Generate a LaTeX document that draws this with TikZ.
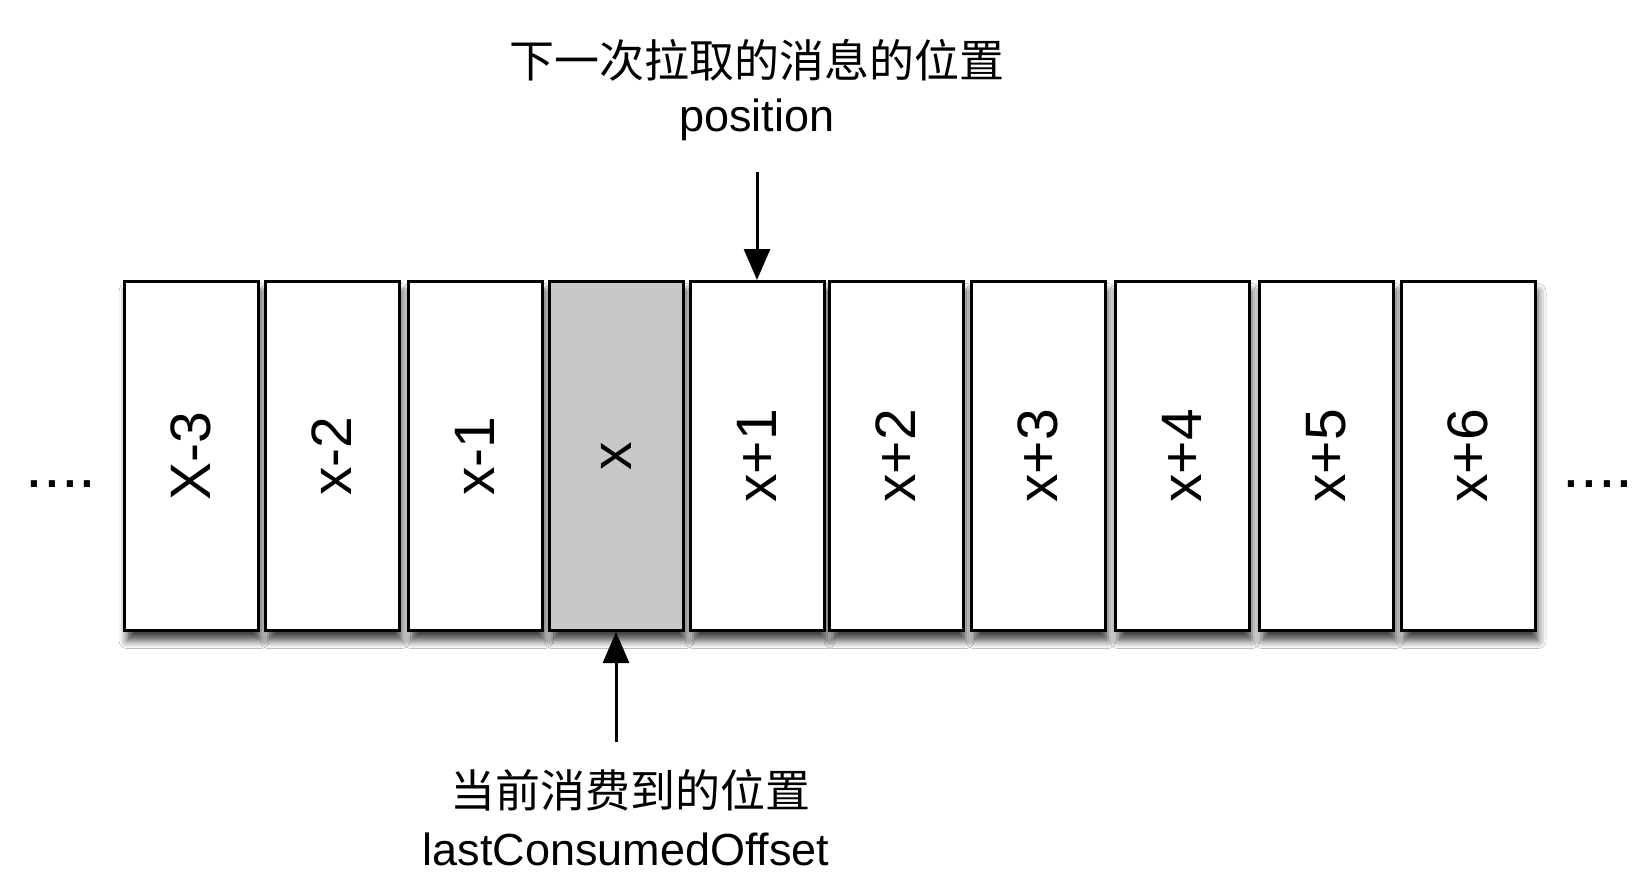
\documentclass[tikz,border=0pt]{standalone}
\usepackage{fontspec}
\setmainfont{Liberation Sans}
\newfontfamily\cjk{Noto Sans CJK SC}
\usetikzlibrary{arrows.meta,shadows.blur}
\definecolor{readgray}{RGB}{200,200,200}

\begin{document}
\begin{tikzpicture}[
    x=1bp, y=-1bp,
    cell/.style={draw=black, line width=3bp, minimum width=134bp, minimum height=349bp,
        inner sep=0pt, blur shadow={shadow xshift=3bp, shadow yshift=-10bp,
        shadow blur radius=8bp, shadow opacity=75}},
    celltext/.style={rotate=90, font=\fontsize{57bp}{60bp}\selectfont},
    caption/.style={font=\fontsize{45bp}{50bp}\selectfont},
    dots/.style={font=\fontsize{64bp}{64bp}\selectfont, anchor=base},
    pointer/.style={-{Triangle[length=31bp,width=26bp]}, line width=3bp}
]

\useasboundingbox (0,0) rectangle (1650,894);
\fill[white] (0,0) rectangle (1650,894);

% the log: one cell per offset, x is the last consumed one
\foreach \i/\x/\t/\f in {0/191/X-3/white,1/332/x-2/white,2/475/x-1/white,
                         3/616/x/readgray,4/757/x+1/white,5/896/x+2/white,
                         6/1038/x+3/white,7/1182/x+4/white,8/1326/x+5/white,
                         9/1468/x+6/white}{
    \node[cell, fill=\f] (c\i) at (\x,456) {};
    \node[celltext] (t\i) at (c\i) {\t};
}

% more messages on both sides
\node[dots] (moreleft) at (61,487) {....};
\node[dots] (moreright) at (1598,487) {....};

% next fetch position
\node[caption] (nexttxt) at (757,60) {\cjk 下一次拉取的消息的位置};
\node[caption, anchor=base] (nextpos) at (757,131) {position};
\coordinate (nexttail) at (757,172);
\draw[pointer] (nexttail) -- (c4.north);

% current consumed offset
\node[caption] (curtxt) at (630,790) {\cjk 当前消费到的位置};
\node[caption, anchor=base] (curoff) at (626,865) {lastConsumedOffset};
\coordinate (curtail) at (616,742);
\draw[pointer] (curtail) -- (c3.south);

\end{tikzpicture}
\end{document}
